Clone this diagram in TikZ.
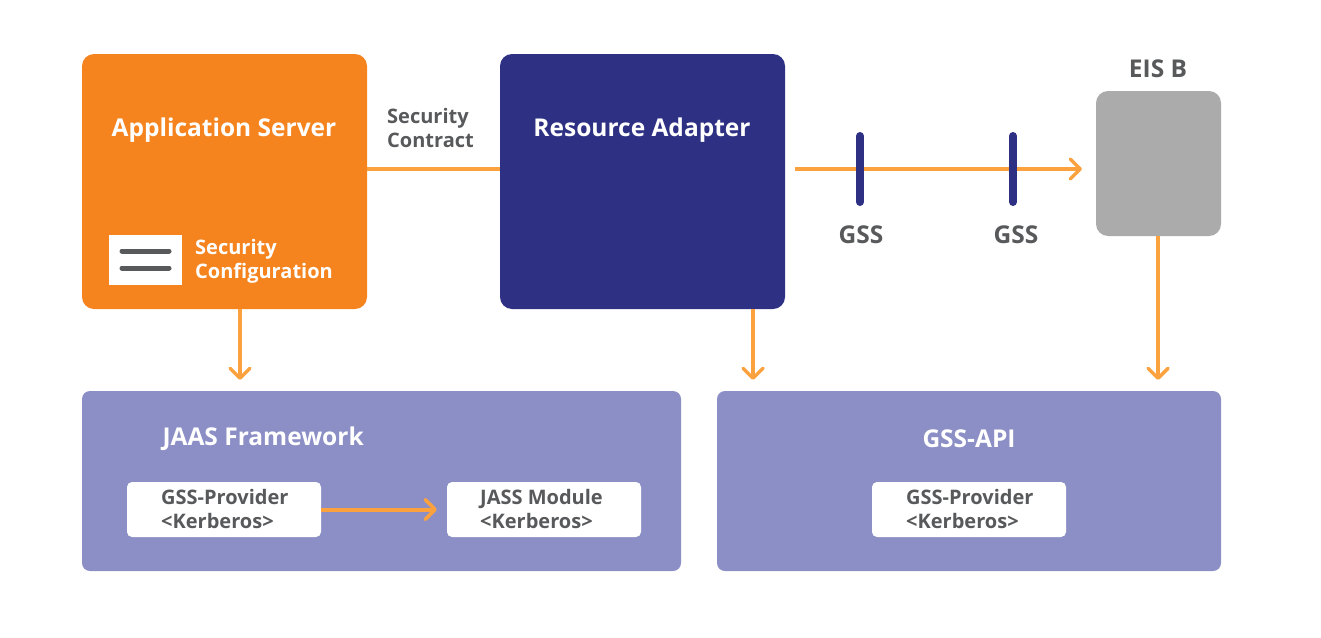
\documentclass[tikz,border=0pt]{standalone}
\usepackage{fontspec}
\setmainfont{Open Sans}
\usetikzlibrary{arrows.meta}
\definecolor{appor}{HTML}{F5841F}
\definecolor{lineor}{HTML}{FBA23F}
\definecolor{navy}{HTML}{2E3083}
\definecolor{eisgray}{HTML}{ABABAB}
\definecolor{lav}{HTML}{8C8FC5}
\definecolor{txtgray}{HTML}{58595B}
\tikzset{
  bigbox/.style={rounded corners=12pt, inner sep=0pt, draw=none},
  inbox/.style={fill=white, rounded corners=5pt, inner sep=0pt, minimum width=194pt, minimum height=55pt},
  title/.style={font=\bfseries\fontsize{24.5}{28}\selectfont, text=white},
  label/.style={font=\bfseries\fontsize{20}{24}\selectfont, text=txtgray, align=left},
  conn/.style={draw=lineor, line width=4pt},
  arr/.style={conn, -{Straight Barb[length=10pt, width=20pt, line width=3.5pt, round]}},
  gssbar/.style={draw=navy, line width=8pt, line cap=round},
}
\begin{document}
\begin{tikzpicture}[x=1pt, y=-1pt]
\useasboundingbox (0,0) rectangle (1321,637);
% top boxes
\node[bigbox, fill=appor, minimum width=285pt, minimum height=255pt] (app) at (224.5,181.5) {};
\node[bigbox, fill=navy, minimum width=285pt, minimum height=255pt] (ra) at (642.5,181.5) {};
\node[bigbox, fill=eisgray, minimum width=125pt, minimum height=145pt] (eis) at (1158.5,163.5) {};
\node[title] (apptitle) at (224,130.5) {Application Server};
\node[title] (ratitle) at (642,130.5) {Resource Adapter};
\node[title, text=txtgray] (eistitle) at (1158,69) {EIS B};
% security configuration icon
\node[fill=white, minimum width=73pt, minimum height=50pt, inner sep=0pt] (icon) at (145.5,260) {};
\draw[txtgray, line width=5pt, line cap=round] (122,251) -- (169,251);
\draw[txtgray, line width=5pt, line cap=round] (122,268) -- (169,268);
\node[label, text=white, anchor=west, inner sep=0pt] (seccfg) at (195,261) {Security\\Configuration};
% security contract
\draw[conn] (app.east |- 0,169) -- (ra.west |- 0,169);
\node[label, anchor=west, inner sep=0pt] (contract) at (387,128) {Security\\Contract};
% GSS arrow
\coordinate (gssstart) at (795,169);
\coordinate (gssend) at (1082,169);
\draw[arr] (gssstart) -- (gssend);
\coordinate (b1t) at (860,136); \coordinate (b1b) at (860,202);
\coordinate (b2t) at (1013,136); \coordinate (b2b) at (1013,202);
\draw[gssbar] (b1t) -- (b1b);
\draw[gssbar] (b2t) -- (b2b);
\node[title, text=txtgray] (gss1) at (861,235) {GSS};
\node[title, text=txtgray] (gss2) at (1016,235) {GSS};
% bottom boxes
\node[bigbox, rounded corners=8pt, fill=lav, minimum width=599pt, minimum height=180pt] (jaas) at (381.5,481) {};
\node[bigbox, rounded corners=8pt, fill=lav, minimum width=504pt, minimum height=180pt] (gssapi) at (969,481) {};
\node[title, anchor=west] (jaastitle) at (159,438.5) {JAAS Framework};
\node[title] (gssapititle) at (969,438.5) {GSS-API};
\node[inbox] (prov1) at (224,509.5) {};
\node[inbox] (jassmod) at (544,509.5) {};
\node[inbox] (prov2) at (969,509.5) {};
\node[label, anchor=west, inner sep=0pt] at (161,509) {GSS-Provider\\<Kerberos>};
\node[label, anchor=west, inner sep=0pt] at (480,509) {JASS Module\\<Kerberos>};
\node[label, anchor=west, inner sep=0pt] at (906,509) {GSS-Provider\\<Kerberos>};
\draw[arr] (prov1.east) -- ([xshift=-10pt]jassmod.west);
% down arrows
\draw[arr] (240,309) -- (240,380);
\draw[arr] (753,309) -- (753,380);
\draw[arr] (eis.south -| 1158,0) -- (1158,380);
\end{tikzpicture}
\end{document}
